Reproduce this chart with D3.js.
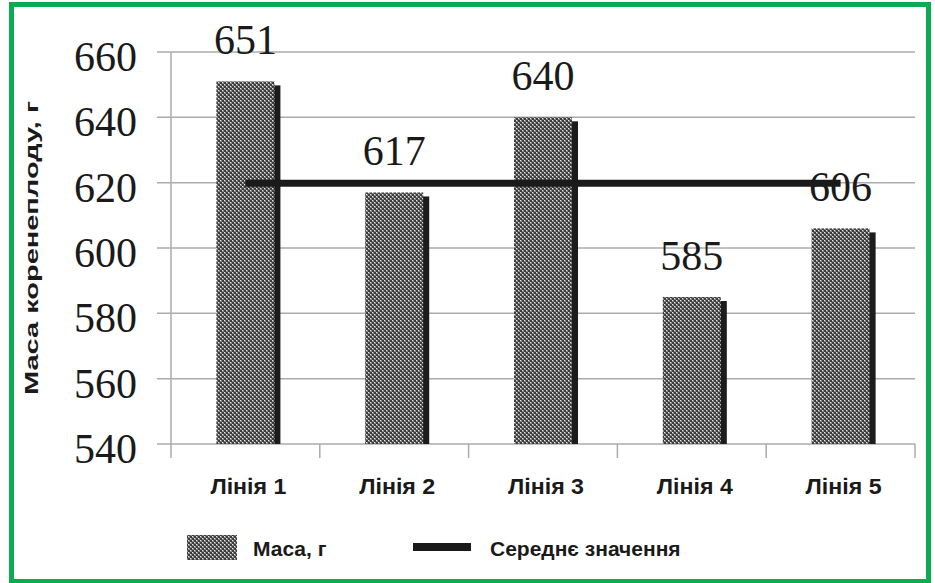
<!DOCTYPE html>
<html>
<head>
<meta charset="utf-8">
<script src="https://cdn.jsdelivr.net/npm/d3@7"></script>
<style>
  html, body { margin: 0; padding: 0; background: #fff; }
  svg { display: block; }
  .num { font-family: "Liberation Serif", "Times New Roman", Times, serif; }
  .lab { font-family: "Liberation Sans", Arial, Helvetica, sans-serif; font-weight: bold; }
</style>
</head>
<body>
<svg id="chart" width="935" height="583"></svg>
<script>
// Root crop mass by breeding line
const categories = ["Лінія 1", "Лінія 2", "Лінія 3", "Лінія 4", "Лінія 5"];
const massValues = [651, 617, 640, 585, 606];
const yTicks = [540, 560, 580, 600, 620, 640, 660];
const yTitle = "Маса коренеплоду, г";
const legendLabels = ["Маса, г", "Середнє значення"];

const meanValue = d3.mean(massValues);

const svg = d3.select("#chart");

// Plot area
const x0 = 171, x1 = 915, yTop = 52, yBottom = 444;

const x = d3.scaleBand()
  .domain(categories)
  .range([x0, x1])
  .paddingInner(0.61)
  .paddingOuter(0.305);

const y = d3.scaleLinear()
  .domain([540, 660])
  .range([yBottom, yTop]);

// Dotted halftone fill for the bars
const defs = svg.append("defs");
const pat = defs.append("pattern")
  .attr("id", "dots")
  .attr("patternUnits", "userSpaceOnUse")
  .attr("width", 4).attr("height", 4);
pat.append("rect").attr("width", 4).attr("height", 4).attr("fill", "#3c3c3c");
pat.append("rect").attr("x", 0).attr("y", 0).attr("width", 1.4).attr("height", 1.4).attr("fill", "#e8e8e8");
pat.append("rect").attr("x", 2).attr("y", 2).attr("width", 1.4).attr("height", 1.4).attr("fill", "#e8e8e8");
pat.append("rect").attr("x", 1).attr("y", 1).attr("width", 1).attr("height", 1).attr("fill", "#8a8a8a");
pat.append("rect").attr("x", 3).attr("y", 3).attr("width", 1).attr("height", 1).attr("fill", "#8a8a8a");

// Gridlines with short ticks left of the axis
svg.append("g")
  .selectAll("line")
  .data(yTicks)
  .join("line")
  .attr("x1", x0 - 14).attr("x2", x1)
  .attr("y1", d => y(d)).attr("y2", d => y(d))
  .attr("stroke", "#ababab").attr("stroke-width", 1.5);

// Vertical axis line
svg.append("line")
  .attr("x1", x0).attr("x2", x0)
  .attr("y1", yTop).attr("y2", yBottom + 14)
  .attr("stroke", "#ababab").attr("stroke-width", 1.5);

// Category boundary ticks below the baseline
const step = x.step();
svg.append("g")
  .selectAll("line")
  .data(d3.range(1, categories.length + 1))
  .join("line")
  .attr("x1", i => x0 + i * step).attr("x2", i => x0 + i * step)
  .attr("y1", yBottom).attr("y2", yBottom + 14)
  .attr("stroke", "#ababab").attr("stroke-width", 1.5);

// Y tick labels
svg.append("g")
  .selectAll("text")
  .data(yTicks)
  .join("text")
  .attr("class", "num")
  .attr("x", 137)
  .attr("y", d => y(d) + 19)
  .attr("text-anchor", "end")
  .attr("font-size", 42)
  .attr("fill", "#1a1a1a")
  .text(d => d);

// Y axis title
svg.append("text")
  .attr("class", "lab")
  .attr("transform", `translate(38, ${(yTop + yBottom) / 2}) rotate(-90)`)
  .attr("text-anchor", "middle")
  .attr("font-size", 19)
  .attr("textLength", 294)
  .attr("lengthAdjust", "spacingAndGlyphs")
  .attr("fill", "#1a1a1a")
  .text(yTitle);

// Bars: dark shadow strip behind, halftone face in front
const bars = svg.append("g");
bars.selectAll("rect.shadow")
  .data(massValues)
  .join("rect")
  .attr("class", "shadow")
  .attr("x", (d, i) => x(categories[i]) + 6)
  .attr("y", d => y(d) + 4)
  .attr("width", x.bandwidth())
  .attr("height", d => yBottom - y(d) - 4)
  .attr("fill", "#1c1c1c");
bars.selectAll("rect.face")
  .data(massValues)
  .join("rect")
  .attr("class", "face")
  .attr("x", (d, i) => x(categories[i]))
  .attr("y", d => y(d))
  .attr("width", x.bandwidth())
  .attr("height", d => yBottom - y(d))
  .attr("fill", "url(#dots)");

// Mean line across the category centres
const firstC = x(categories[0]) + x.bandwidth() / 2;
const lastC = x(categories[categories.length - 1]) + x.bandwidth() / 2;
svg.append("line")
  .attr("x1", firstC).attr("x2", lastC)
  .attr("y1", y(meanValue)).attr("y2", y(meanValue))
  .attr("stroke", "#1a1a1a").attr("stroke-width", 7);

// Value labels
svg.append("g")
  .selectAll("text")
  .data(massValues)
  .join("text")
  .attr("class", "num")
  .attr("x", (d, i) => x(categories[i]) + x.bandwidth() / 2)
  .attr("y", d => y(d) - 27)
  .attr("text-anchor", "middle")
  .attr("font-size", 42)
  .attr("fill", "#1a1a1a")
  .text(d => d);

// Category labels
svg.append("g")
  .selectAll("text")
  .data(categories)
  .join("text")
  .attr("class", "lab")
  .attr("x", d => x(d) + x.bandwidth() / 2 + 3)
  .attr("y", 494)
  .attr("text-anchor", "middle")
  .attr("font-size", 22)
  .attr("textLength", 76)
  .attr("lengthAdjust", "spacingAndGlyphs")
  .attr("fill", "#1a1a1a")
  .text(d => d);

// Legend
const lg = svg.append("g");
lg.append("rect")
  .attr("x", 187).attr("y", 535).attr("width", 50).attr("height", 25)
  .attr("fill", "url(#dots)");
lg.append("text")
  .attr("class", "lab")
  .attr("x", 253).attr("y", 556)
  .attr("font-size", 21)
  .attr("fill", "#1a1a1a")
  .text(legendLabels[0]);
lg.append("line")
  .attr("x1", 413).attr("x2", 471).attr("y1", 547).attr("y2", 547)
  .attr("stroke", "#1a1a1a").attr("stroke-width", 8);
lg.append("text")
  .attr("class", "lab")
  .attr("x", 490).attr("y", 556)
  .attr("font-size", 21)
  .attr("fill", "#1a1a1a")
  .text(legendLabels[1]);

// Green frame
svg.append("rect")
  .attr("x", 11.5).attr("y", 4.5)
  .attr("width", 917).attr("height", 577)
  .attr("fill", "none")
  .attr("stroke", "#0aac4f")
  .attr("stroke-width", 5);
</script>
</body>
</html>
